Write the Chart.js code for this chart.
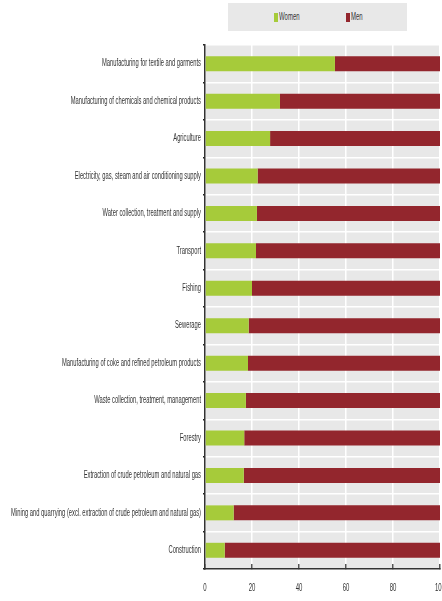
<!DOCTYPE html>
<html>
<head>
<meta charset="utf-8">
<script src="https://cdn.jsdelivr.net/npm/chart.js@4/dist/chart.umd.min.js"></script>
<style>
  html, body { margin: 0; padding: 0; background: #fff; overflow: hidden; }
  #wrap { position: relative; width: 442px; height: 601px; }
  #legend {
    position: absolute; left: 228px; top: 3px; width: 179px; height: 28px;
    background: #e8e8e8; font: 10px "Liberation Sans", Arial, sans-serif; color: #333;
  }
  #legend .item { position: absolute; top: 10px; line-height: 9px; white-space: nowrap; }
  #legend i { position: absolute; left: 0; top: 0; width: 4px; height: 9px; }
  #legend b { position: absolute; left: 5px; top: -1px; font-weight: normal; transform: scaleX(0.6); transform-origin: 0 0; }
</style>
</head>
<body>
<div id="wrap">
  <canvas id="chart" width="442" height="601"></canvas>
  <div id="legend"></div>
</div>
<script>
// Share of women and men by sector (%)
const sectors = [
  'Manufacturing for textile and garments',
  'Manufacturing of chemicals and chemical products',
  'Agriculture',
  'Electricity, gas, steam and air conditioning supply',
  'Water collection, treatment and supply',
  'Transport',
  'Fishing',
  'Sewerage',
  'Manufacturing of coke and refined petroleum products',
  'Waste collection, treatment, management',
  'Forestry',
  'Extraction of crude petroleum and natural gas',
  'Mining and quarrying (excl. extraction of crude petroleum and natural gas)',
  'Construction'
];
const women = [55.3, 31.9, 27.7, 22.4, 22.1, 21.7, 20.0, 18.6, 18.3, 17.4, 16.7, 16.5, 12.2, 8.4];
const men = [44.7, 68.1, 72.3, 77.6, 77.9, 78.3, 80.0, 81.4, 81.7, 82.6, 83.3, 83.5, 87.8, 91.6];
const xTicks = [0, 20, 40, 60, 80, 100];

const seriesNames = ['Women', 'Men'];
const seriesColors = ['#a6cb3a', '#93262d'];

const FONT = '"Liberation Sans", Arial, sans-serif';

// grey plot background
const plotBg = {
  id: 'plotBg',
  beforeDraw(chart) {
    const { ctx, chartArea: a } = chart;
    ctx.save();
    ctx.fillStyle = '#e8e8e8';
    ctx.fillRect(a.left, a.top, a.right - a.left, a.bottom - a.top);
    ctx.restore();
  }
};

// the original uses a very narrow font: squeeze tick labels horizontally
function condense(scale, sx) {
  if (scale._condensed) return;
  scale._condensed = true;
  const orig = scale.drawLabels;
  scale.drawLabels = function (area) {
    const ctx = this.ctx;
    const fill = ctx.fillText;
    ctx.fillText = function (t, x, y) {
      this.save();
      this.scale(sx, 1);
      fill.call(this, t, x / sx, y);
      this.restore();
    };
    orig.call(this, area);
    delete ctx.fillText;
  };
}
const narrowLabels = {
  id: 'narrowLabels',
  beforeDraw(chart) {
    condense(chart.scales.y, 0.58);
    condense(chart.scales.x, 0.6);
  }
};

const chart = new Chart(document.getElementById('chart'), {
  type: 'bar',
  data: {
    labels: sectors,
    datasets: [
      { label: seriesNames[0], data: women, backgroundColor: seriesColors[0] },
      { label: seriesNames[1], data: men, backgroundColor: seriesColors[1] }
    ]
  },
  options: {
    indexAxis: 'y',
    responsive: false,
    animation: false,
    barPercentage: 0.4,
    categoryPercentage: 1,
    layout: { padding: { top: 45, right: 2, left: 0, bottom: 0 } },
    plugins: {
      legend: { display: false },
      tooltip: { enabled: false }
    },
    scales: {
      x: {
        stacked: true,
        min: 0,
        max: 100,
        afterBuildTicks(scale) {
          scale.ticks = xTicks.map(v => ({ value: v }));
        },
        afterFit(scale) {
          scale.paddingLeft = 0;
          scale.paddingRight = 0;
          scale.height = 32;
        },
        grid: { color: '#ffffff', lineWidth: 1.5, tickColor: '#555', tickLength: -5 },
        border: { color: '#333', width: 1.5 },
        ticks: { font: { family: FONT, size: 10 }, color: '#333', padding: 18, maxRotation: 0 }
      },
      y: {
        stacked: true,
        afterFit(scale) {
          scale.width = 205;
          scale.paddingTop = 0;
          scale.paddingBottom = 0;
        },
        grid: { color: '#ffffff', lineWidth: 1.5, tickColor: '#222', tickLength: 2, offset: true },
        border: { color: '#333', width: 1.5 },
        ticks: { font: { family: FONT, size: 10 }, color: '#333', padding: 2, autoSkip: false }
      }
    }
  },
  plugins: [plotBg, narrowLabels]
});

// legend
const legend = document.getElementById('legend');
const legendX = [46, 118];
seriesNames.forEach((name, i) => {
  const s = document.createElement('span');
  s.className = 'item';
  s.style.left = legendX[i] + 'px';
  s.innerHTML = '<i style="background:' + seriesColors[i] + '"></i><b>' + name + '</b>';
  legend.appendChild(s);
});
</script>
</body>
</html>
